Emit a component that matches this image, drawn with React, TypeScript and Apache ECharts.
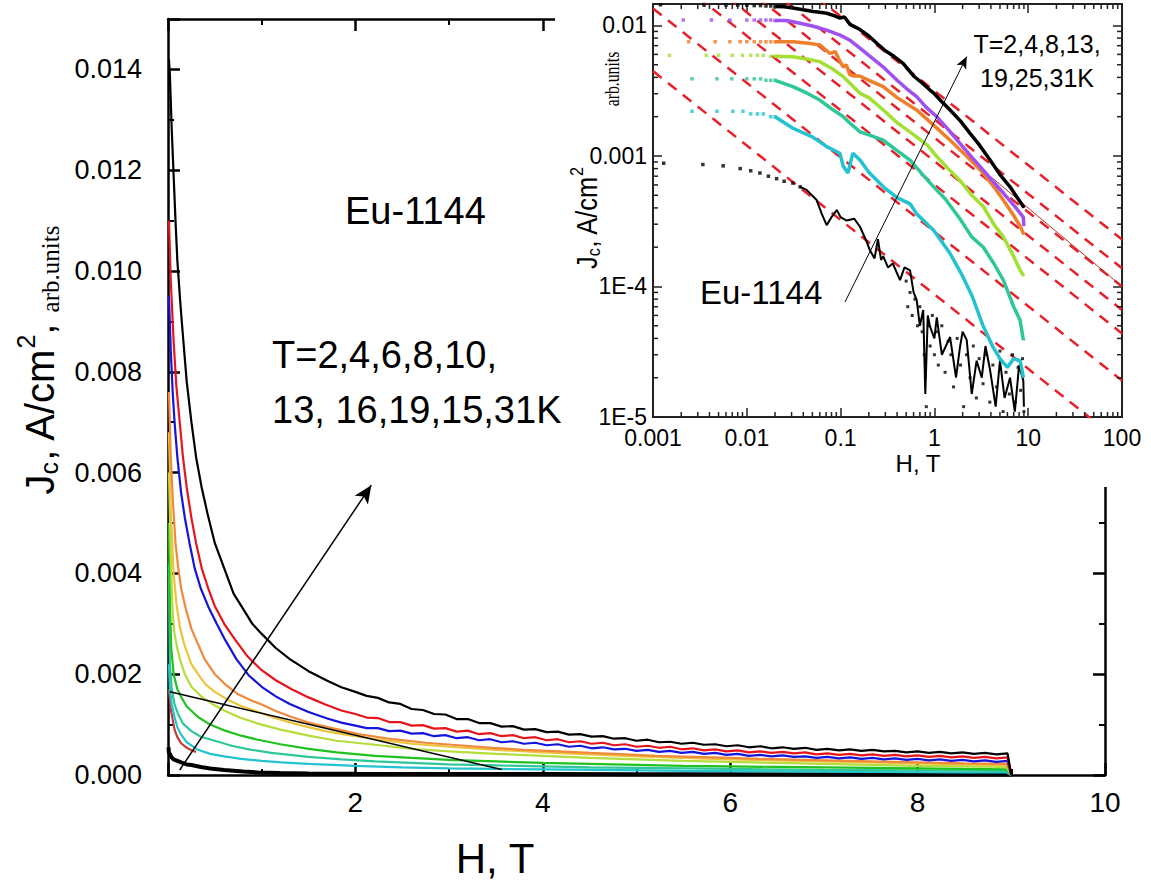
import React, { useEffect, useRef } from "react";
import * as echarts from "echarts";

// ---------------- Main chart (linear) data: [H (T), Jc] ----------------
const MAIN_X_TICKS = [0, 2, 4, 6, 8, 10];
const MAIN_T2: number[][] = [[0.01,0.0142],[0.02,0.0139],[0.04,0.0128],[0.06,0.0119],[0.08,0.0110],[0.10,0.0102],[0.13,0.0094],[0.16,0.0087],[0.2,0.0078],[0.25,0.0070],[0.3,0.0063],[0.36,0.0057],[0.42,0.0052],[0.5,0.0046],[0.6,0.0041],[0.7,0.0036],[0.8,0.0033],[0.9,0.0030],[1.0,0.0028],[1.15,0.00252],[1.3,0.0023],[1.5,0.00206],[1.7,0.00187],[1.85,0.00174],
  [2.0,0.00165],[2.12,0.00157],[2.24,0.00153],[2.36,0.00144],[2.48,0.00141],[2.6,0.00131],[2.72,0.00129],[2.84,0.00121],[2.96,0.0012],[3.08,0.00111],[3.2,0.00111],[3.32,0.00103],[3.44,0.00103],[3.56,0.00096],[3.68,0.00097],[3.8,0.0009],[3.92,0.00091],[4.04,0.00085],[4.16,0.00086],[4.28,0.0008],[4.4,0.00081],[4.52,0.00076],[4.64,0.00077],[4.76,0.00072],[4.88,0.00073],[5.0,0.00068],[5.12,0.0007],[5.24,0.00065],[5.36,0.00066],[5.48,0.00062],[5.6,0.00064],[5.72,0.0006],[5.84,0.00061],[5.96,0.00057],[6.08,0.00059],[6.2,0.00055],[6.32,0.00057],[6.44,0.00053],[6.56,0.00055],[6.68,0.00052],[6.8,0.00054],[6.92,0.0005],[7.04,0.00052],[7.16,0.00049],[7.28,0.00051],[7.4,0.00048],[7.52,0.0005],[7.64,0.00047],[7.76,0.00048],[7.88,0.00045],[8.0,0.00047],[8.12,0.00044],[8.24,0.00046],[8.36,0.00043],[8.48,0.00045],[8.6,0.00042],[8.72,0.00044],[8.84,0.00041],[8.96,0.00043],[9.0,0]];
const MAIN_T4: number[][] = [[0.01,0.0110],[0.03,0.0098],[0.06,0.0086],[0.09,0.0077],[0.125,0.0070],[0.16,0.0063],[0.2,0.0057],[0.25,0.0051],[0.3,0.0046],[0.36,0.0041],[0.43,0.0037],[0.5,0.00335],[0.6,0.0030],[0.71,0.0027],[0.85,0.00235],[1.0,0.00208],[1.15,0.00188],[1.32,0.0017],[1.5,0.00154],[1.68,0.0014],[1.85,0.00128],
  [2.0,0.00121],[2.12,0.00114],[2.24,0.00113],[2.36,0.00105],[2.48,0.00105],[2.6,0.00098],[2.72,0.00099],[2.84,0.00092],[2.96,0.00093],[3.08,0.00086],[3.2,0.00088],[3.32,0.00081],[3.44,0.00083],[3.56,0.00077],[3.68,0.00079],[3.8,0.00073],[3.92,0.00075],[4.04,0.00069],[4.16,0.00071],[4.28,0.00065],[4.4,0.00067],[4.52,0.00062],[4.64,0.00064],[4.76,0.00059],[4.88,0.00061],[5.0,0.00056],[5.12,0.00058],[5.24,0.00054],[5.36,0.00056],[5.48,0.00051],[5.6,0.00053],[5.72,0.00049],[5.84,0.00051],[5.96,0.00047],[6.08,0.00049],[6.2,0.00045],[6.32,0.00047],[6.44,0.00044],[6.56,0.00046],[6.68,0.00043],[6.8,0.00045],[6.92,0.00041],[7.04,0.00043],[7.16,0.0004],[7.28,0.00042],[7.4,0.00039],[7.52,0.00041],[7.64,0.00038],[7.76,0.0004],[7.88,0.00037],[8.0,0.00039],[8.12,0.00036],[8.24,0.00038],[8.36,0.00035],[8.48,0.00037],[8.6,0.00034],[8.72,0.00036],[8.84,0.00033],[8.96,0.00035],[9.0,0]];
const MAIN_T6: number[][] = [[0.01,0.0095],[0.03,0.0084],[0.05,0.0076],[0.07,0.0070],[0.1,0.0063],[0.14,0.0056],[0.18,0.0051],[0.23,0.0046],[0.285,0.0041],[0.35,0.0037],[0.43,0.00334],[0.52,0.0030],[0.61,0.00268],[0.73,0.0023],[0.86,0.00198],[1.0,0.00175],[1.15,0.00156],[1.3,0.00141],[1.5,0.00125],[1.7,0.00112],[1.85,0.00104],
  [2.0,0.00098],[2.12,0.00093],[2.24,0.00093],[2.36,0.00087],[2.48,0.00088],[2.6,0.00082],[2.72,0.00083],[2.84,0.00077],[2.96,0.00079],[3.08,0.00073],[3.2,0.00075],[3.32,0.00069],[3.44,0.00071],[3.56,0.00065],[3.68,0.00067],[3.8,0.00062],[3.92,0.00064],[4.04,0.00059],[4.16,0.00061],[4.28,0.00056],[4.4,0.00058],[4.52,0.00053],[4.64,0.00055],[4.76,0.00051],[4.88,0.00052],[5.0,0.00048],[5.12,0.0005],[5.24,0.00046],[5.36,0.00048],[5.48,0.00044],[5.6,0.00046],[5.72,0.00042],[5.84,0.00044],[5.96,0.0004],[6.08,0.00042],[6.2,0.00038],[6.32,0.0004],[6.44,0.00037],[6.56,0.00039],[6.68,0.00036],[6.8,0.00037],[6.92,0.00034],[7.04,0.00036],[7.16,0.00033],[7.28,0.00035],[7.4,0.00032],[7.52,0.00034],[7.64,0.00031],[7.76,0.00033],[7.88,0.0003],[8.0,0.00032],[8.12,0.00029],[8.24,0.00031],[8.36,0.00028],[8.48,0.0003],[8.6,0.00027],[8.72,0.00029],[8.84,0.00026],[8.96,0.00028],[9.0,0]];
const MAIN_T8: number[][] = [[0.01,0.0076],[0.03,0.0063],[0.05,0.0055],[0.08,0.0046],[0.11,0.0041],[0.14,0.0037],[0.19,0.0033],[0.25,0.0029],[0.32,0.0026],[0.39,0.0023],[0.5,0.002],[0.61,0.0018],[0.75,0.0016],[0.9,0.00147],[1.0,0.0014],[1.15,0.00127],[1.32,0.00115],[1.5,0.00104],[1.7,0.00095],[1.85,0.00089],[2.03,0.00081],[2.4,0.00071],[2.75,0.00064],[3.1,0.00059],[3.46,0.00054],[3.8,0.0005],[4.17,0.00047],[4.5,0.00044],[4.88,0.00041],[5.2,0.00038],[5.6,0.00036],[6.0,0.00034],[6.31,0.00032],[6.8,0.0003],[7.5,0.00027],[8.0,0.00025],[8.5,0.00023],[8.95,0.00022],[9.0,0]];
const MAIN_T10: number[][] = [[0.01,0.0068],[0.03,0.0052],[0.06,0.0040],[0.09,0.0034],[0.13,0.0029],[0.18,0.00255],[0.25,0.0022],[0.32,0.002],[0.4,0.0018],[0.5,0.00165],[0.63,0.0015],[0.78,0.00137],[0.95,0.00126],[1.14,0.00113],[1.35,0.00102],[1.5,0.00095],[1.68,0.00087],[1.9,0.0008],[2.21,0.00071],[2.6,0.00062],[3.0,0.00056],[3.5,0.0005],[4.0,0.00045],[4.5,0.00041],[5.0,0.00037],[5.5,0.00034],[6.0,0.00031],[6.5,0.00029],[7.0,0.00027],[7.5,0.00025],[8.0,0.00023],[8.5,0.00021],[8.95,0.0002],[9.0,0]];
const MAIN_T13: number[][] = [[0.01,0.0060],[0.03,0.0043],[0.05,0.0032],[0.07,0.0028],[0.1,0.0025],[0.14,0.00222],[0.18,0.002],[0.25,0.00175],[0.36,0.00155],[0.48,0.0014],[0.61,0.00127],[0.78,0.00113],[0.96,0.00102],[1.2,0.0009],[1.5,0.00078],[1.8,0.00068],[2.21,0.0006],[2.6,0.00052],[3.0,0.00047],[3.5,0.00042],[4.0,0.00038],[4.5,0.00034],[5.0,0.00031],[5.5,0.00028],[6.0,0.00026],[6.5,0.00024],[7.0,0.00022],[7.5,0.0002],[8.0,0.00018],[8.5,0.00017],[8.95,0.00016],[9.0,0]];
const MAIN_T16: number[][] = [[0.01,0.0050],[0.02,0.0034],[0.035,0.0025],[0.06,0.002],[0.1,0.0017],[0.14,0.00155],[0.2,0.00136],[0.32,0.00115],[0.45,0.001],[0.61,0.00088],[0.78,0.00078],[0.96,0.0007],[1.2,0.00061],[1.5,0.00052],[1.8,0.00045],[2.21,0.00038],[2.6,0.00034],[3.0,0.0003],[3.5,0.00027],[4.0,0.00024],[4.5,0.00022],[5.0,0.0002],[5.5,0.00018],[6.0,0.00017],[6.5,0.00016],[7.0,0.00015],[7.5,0.00014],[8.0,0.00013],[8.5,0.00012],[8.95,0.00011],[9.0,0]];
const MAIN_T19: number[][] = [[0.01,0.0042],[0.015,0.0030],[0.02,0.0022],[0.04,0.0017],[0.07,0.0014],[0.11,0.0012],[0.16,0.00102],[0.25,0.00087],[0.35,0.00076],[0.5,0.00068],[0.68,0.00058],[0.89,0.0005],[1.1,0.00044],[1.5,0.00036],[1.85,0.00031],[2.21,0.00027],[2.6,0.00024],[3.0,0.00021],[3.5,0.00019],[4.0,0.00017],[4.5,0.00015],[5.0,0.00014],[6.0,0.00012],[7.0,0.0001],[8.0,0.00009],[8.95,0.00008],[9.0,0]];
const MAIN_T25: number[][] = [[0.01,0.0022],[0.02,0.0017],[0.04,0.0014],[0.07,0.00115],[0.1,0.00095],[0.14,0.0008],[0.2,0.00065],[0.32,0.0005],[0.45,0.00042],[0.6,0.00037],[0.78,0.00032],[1.0,0.00028],[1.21,0.00025],[1.5,0.00022],[2.0,0.00018],[2.5,0.00015],[3.0,0.00013],[3.5,0.00012],[4.0,0.00011],[4.6,0.0001],[5.5,0.00008],[6.5,0.00007],[7.5,0.00006],[8.5,0.00005],[8.95,0.00005],[9.0,0]];
const MAIN_T31: number[][] = [[0.01,0.0017],[0.02,0.0015],[0.03,0.0013],[0.05,0.0011],[0.07,0.0009],[0.1,0.00075],[0.14,0.00063],[0.18,0.00057],[0.22,0.00052],[0.26,0.00048],[0.3,0.00046]];
const MAIN_BASE: number[][] = [[0.005,0.00055],[0.01,0.00044],[0.02,0.00042],[0.035,0.00036],[0.06,0.00031],[0.1,0.00028],[0.14,0.00025],[0.2,0.00021],[0.25,0.0002],[0.35,0.00016],[0.45,0.00013],[0.6,0.0001],[0.8,0.00007],[0.96,0.00005],[1.2,0.00004],[1.5,0.00003],[2.0,0.000025],[3,0.00002],[4,0.000018],[5,0.000015],[6,0.000015],[7,0.000012],[8,0.000012],[9.0,0.00001]];
const MAIN_FIT_LINE: number[][] = [[0.02,0.00165],[3.56,0.00011]];
const MAIN_ARROW: number[][] = [[0.125,0.0001],[2.17,0.00575]];

// ---------------- Inset (log-log) data ----------------
const IN_T2_DOTS: number[][] = [[0.0012,0.0144],[0.0035,0.0143],[0.006,0.0143],[0.008,0.0143],[0.01,0.0143],[0.012,0.0142],[0.014,0.0142],[0.016,0.0141],[0.018,0.0141],[0.02,0.014]];
const IN_T2: number[][] = [[0.02,0.014],[0.025,0.0139],[0.031,0.0136],[0.04,0.0132],[0.051,0.0128],[0.06,0.0126],[0.0711,0.0124],[0.085,0.0119],[0.0986,0.0114],[0.11,0.0116],[0.126,0.0102],[0.161,0.0093],[0.2,0.0083],[0.243,0.0073],[0.3,0.0064],[0.37,0.0058],[0.466,0.0051],[0.6,0.0041],[0.75,0.0036],[0.897,0.0032],[1.0,0.0030],[1.2,0.0026],[1.47,0.00225],[1.9,0.00185],[2.4,0.00149],[3.0,0.00122],[3.92,0.00093],[5.0,0.00072],[6.4,0.00058],[7.5,0.00049],[8.87,0.00041],[9.0,0.0004]];
const IN_T4_DOTS: number[][] = [[0.0021,0.011],[0.0042,0.011],[0.0066,0.011],[0.01,0.011],[0.012,0.011],[0.014,0.011],[0.016,0.011],[0.018,0.011],[0.02,0.0109]];
const IN_T4: number[][] = [[0.02,0.0109],[0.0266,0.0109],[0.0369,0.0104],[0.05,0.0099],[0.0711,0.0092],[0.1,0.0084],[0.126,0.0077],[0.161,0.0067],[0.2,0.0059],[0.285,0.0048],[0.4,0.0038],[0.5,0.0033],[0.647,0.00285],[0.8,0.0024],[1.06,0.002],[1.4,0.0016],[1.87,0.00125],[2.5,0.00098],[3.32,0.00078],[4.2,0.00064],[5.43,0.00052],[7.0,0.00042],[8.87,0.00034],[9.0,0.00029]];
const IN_T8_DOTS: number[][] = [[0.0024,0.0075],[0.0046,0.0075],[0.0066,0.0075],[0.0085,0.0075],[0.01,0.0075],[0.012,0.0075],[0.014,0.0075],[0.016,0.0075],[0.018,0.0075],[0.02,0.0075]];
const IN_T8: number[][] = [[0.02,0.0075],[0.0313,0.0075],[0.045,0.0073],[0.06,0.0071],[0.077,0.0061],[0.0875,0.0063],[0.1,0.0052],[0.107,0.0048],[0.115,0.005],[0.125,0.0042],[0.14,0.0041],[0.16,0.0041],[0.2,0.0038],[0.285,0.0034],[0.4,0.0028],[0.647,0.00225],[1.0,0.0017],[1.47,0.00132],[2.2,0.001],[3.32,0.00074],[4.3,0.00058],[5.43,0.00046],[7.0,0.00035],[8.2,0.00029],[9.0,0.00025]];
const IN_T13_DOTS: number[][] = [[0.0015,0.0059],[0.0037,0.0059],[0.005,0.0059],[0.007,0.0059],[0.009,0.0059],[0.011,0.0059],[0.013,0.0059],[0.015,0.0059],[0.018,0.0058],[0.02,0.0058]];
const IN_T13: number[][] = [[0.02,0.0058],[0.031,0.00576],[0.045,0.0055],[0.06,0.00528],[0.08,0.0047],[0.107,0.00405],[0.161,0.00302],[0.2,0.0028],[0.285,0.00225],[0.4,0.0018],[0.647,0.0014],[0.85,0.0012],[1.06,0.00099],[1.4,0.0008],[1.87,0.00065],[2.5,0.0005],[3.32,0.00041],[4.3,0.0003],[5.43,0.00024],[7.0,0.00017],[8.2,0.000133],[9.0,0.00012]];
const IN_T19_DOTS: number[][] = [[0.0026,0.0039],[0.0048,0.0039],[0.0069,0.0039],[0.01,0.0039],[0.012,0.0039],[0.014,0.0039],[0.016,0.0038],[0.018,0.0038],[0.02,0.0038]];
const IN_T19: number[][] = [[0.02,0.0038],[0.031,0.0034],[0.045,0.003],[0.06,0.00268],[0.08,0.0023],[0.107,0.002],[0.126,0.00178],[0.161,0.00153],[0.2,0.00145],[0.285,0.00132],[0.4,0.0011],[0.55,0.00093],[0.75,0.00072],[0.98,0.00058],[1.3,0.00047],[1.87,0.00033],[2.5,0.00024],[3.32,0.0002],[4.3,0.00015],[5.43,0.000112],[7.0,0.00007],[8.2,0.000055],[8.87,0.000039],[9.0,0.00004]];
const IN_T25_DOTS: number[][] = [[0.0026,0.0022],[0.0048,0.0022],[0.0071,0.0022],[0.0091,0.0022],[0.011,0.0021],[0.013,0.0021],[0.015,0.0021],[0.018,0.002],[0.02,0.002]];
const IN_T25: number[][] = [[0.02,0.002],[0.031,0.00163],[0.05,0.0014],[0.071,0.00118],[0.098,0.00105],[0.107,0.00083],[0.12,0.00074],[0.135,0.00105],[0.161,0.00093],[0.2,0.00075],[0.285,0.00058],[0.4,0.00048],[0.55,0.00043],[0.647,0.00036],[0.98,0.00027],[1.47,0.000179],[2.0,0.00012],[2.55,0.000083],[3.3,0.00005],[4.25,0.000034],[5.0,0.000028],[6.0,0.000024],[7.0,0.000028],[8.2,0.000027],[8.9,0.00002],[9.0,0.00002]];
const IN_T31_DOTS: number[][] = [[0.0013,0.00088],[0.0034,0.00086],[0.0056,0.00084],[0.0085,0.0008],[0.011,0.00077],[0.0138,0.00074],[0.017,0.0007],[0.0208,0.00067],[0.025,0.00064],[0.031,0.00062],[0.037,0.00058]];
const IN_T31: number[][] = [[0.037,0.00058],[0.0434,0.00055],[0.0555,0.00046],[0.063,0.00036],[0.071,0.000295],[0.08,0.00034],[0.091,0.000385],[0.1,0.00034],[0.116,0.00032],[0.14,0.00033],[0.161,0.000287],[0.19,0.00022],[0.205,0.00019],[0.23,0.000164],[0.25,0.00023],[0.27,0.00016],[0.285,0.00017],[0.32,0.00014],[0.36,0.00015],[0.43,0.000112],[0.48,0.00014],[0.55,0.000133],[0.6,0.00009],[0.647,0.000079],[0.7,0.00005],[0.76,0.000066],[0.8,0.000015],[0.85,0.00006],[0.9,0.000049],[1.0,0.00004],[1.06,0.000058],[1.2,0.00003],[1.47,0.000041],[1.7,0.00002],[1.87,0.000034],[2.0,0.000045],[2.21,0.000039],[2.5,0.000015],[2.82,0.000027],[3.2,0.00002],[3.5,0.000035],[3.92,0.000023],[4.5,0.000012],[5.0,0.000027],[5.6,0.000014],[6.4,0.00002],[7.2,0.000011],[8.0,0.000025],[8.87,0.000019],[9.0,0.000012]];
const IN_T31_NOISE: number[][] = [[0.5,0.00011],[0.52,0.00007],[0.55,0.00009],[0.58,0.00006],[0.62,0.00008],[0.66,0.00005],[0.7,0.00007],[0.74,0.000045],[0.78,0.00003],[0.82,0.000012],[0.86,0.00005],[0.9,0.000035],[0.95,0.00006],[1.0,0.00003],[1.05,0.000045],[1.1,0.000025],[1.2,0.00005],[1.3,0.000022],[1.4,0.000038],[1.5,0.00003],[1.6,0.000017],[1.75,0.00004],[1.9,0.000025],[2.05,0.000012],[2.2,0.00003],[2.4,0.00002],[2.6,0.000035],[2.8,0.000014],[3.0,0.000028],[3.3,0.000018],[3.6,0.00003],[3.9,0.000013],[4.2,0.000025],[4.6,0.000017],[5.0,0.000032],[5.4,0.000011],[5.8,0.000022],[6.3,0.000015],[6.8,0.00003],[7.3,0.000013],[7.8,0.000024],[8.3,0.000016],[8.7,0.000028],[9.0,0.000011]];
// red dashed power-law guide lines: [H1, J1, H2, J2]
const DASH_LINES: number[][] = [
  [0.001, 0.162, 100, 0.000229],
  [0.001, 0.0977, 100, 0.000138],
  [0.001, 0.0708, 100, 0.0001],
  [0.001, 0.0468, 100, 0.000066],
  [0.001, 0.0309, 100, 0.0000437],
  [0.001, 0.0135, 100, 0.000019],
  [0.001, 0.00447, 100, 0.0000063],
];
const THIN_FIT: number[][] = [[2.0, 0.00105], [100, 0.0001]];
const INSET_ARROW: number[][] = [[0.1114, 0.000076], [2.21, 0.00577]];

const SANS = "Liberation Sans, Arial, sans-serif";
const SERIF = "Liberation Serif, Times New Roman, serif";

export default function App() {
  const ref = useRef<HTMLDivElement>(null);
  useEffect(() => {
    const chart = echarts.init(ref.current!, null, { renderer: "svg" });

    const mainLine = (name: string, data: number[][], color: string, width = 2.2) => ({
      name, type: "line", xAxisIndex: 0, yAxisIndex: 0, data, showSymbol: false,
      lineStyle: { color, width }, itemStyle: { color }, z: 3, silent: true,
    });
    const insetLine = (name: string, data: number[][], color: string, width = 3.5) => ({
      name, type: "line", xAxisIndex: 2, yAxisIndex: 2, data, showSymbol: false,
      lineStyle: { color, width }, itemStyle: { color }, z: 70, silent: true,
    });
    const insetDots = (name: string, data: number[][], color: string, size = 3.5) => ({
      name, type: "scatter", xAxisIndex: 2, yAxisIndex: 2, data, symbol: "rect", symbolSize: size,
      itemStyle: { color }, z: 70, silent: true,
    });

    const minorX: number[][] = [];
    for (let d = -3; d < 2; d++) for (let k = 2; k <= 9; k++) minorX.push([k * Math.pow(10, d), 0.001]);
    const minorY: number[][] = [];
    for (let d = -5; d < -2; d++) for (let k = 2; k <= 9; k++) minorY.push([1, k * Math.pow(10, d)]);

    const logFmt = (v: number) => {
      const e = Math.round(Math.log10(v));
      if (Math.abs(v - Math.pow(10, e)) / Math.pow(10, e) > 0.01) return "";
      if (e < -3) return "1E" + e;
      return e >= 0 ? String(Math.pow(10, e)) : Math.pow(10, e).toFixed(-e);
    };

    const mainAxisLine = { onZero: false, lineStyle: { color: "#000", width: 2.5 } };
    const mainTick = { inside: true, length: 12, lineStyle: { width: 2.5, color: "#000" } };
    const mainMinor = { show: true, splitNumber: 2, length: 6, lineStyle: { width: 2, color: "#000" } };
    const inAxisLine = { show: true, onZero: false, lineStyle: { color: "#222", width: 2 } };
    const inTick = { inside: true, length: 9, lineStyle: { width: 1.5, color: "#222" } };

    const option: any = {
      animation: false,
      backgroundColor: "#fff",
      grid: [
        { left: 168, top: 19, width: 937, height: 756 },
        { left: 653, top: 4, width: 469, height: 413 },
      ],
      xAxis: [
        {
          gridIndex: 0, type: "value", min: MAIN_X_TICKS[0], max: MAIN_X_TICKS[MAIN_X_TICKS.length - 1], interval: 2,
          position: "bottom", axisLine: mainAxisLine, axisTick: mainTick, minorTick: mainMinor,
          splitLine: { show: false },
          axisLabel: { fontSize: 28, fontFamily: SANS, color: "#000", margin: 13, formatter: (v: number) => (v === 0 ? "" : String(v)) },
        },
        {
          gridIndex: 0, type: "value", min: 0, max: 10, interval: 2, position: "top",
          axisLine: mainAxisLine, axisTick: mainTick, minorTick: mainMinor,
          splitLine: { show: false }, axisLabel: { show: false },
        },
        {
          gridIndex: 1, type: "log", logBase: 10, min: 0.001, max: 100, position: "bottom", z: 60,
          axisLine: inAxisLine, axisTick: inTick, splitLine: { show: false },
          axisLabel: { fontSize: 23, fontFamily: SANS, color: "#000", margin: 9, formatter: logFmt },
        },
        {
          gridIndex: 1, type: "log", logBase: 10, min: 0.001, max: 100, position: "top", z: 60,
          axisLine: inAxisLine, axisTick: inTick, splitLine: { show: false }, axisLabel: { show: false },
        },
      ],
      yAxis: [
        {
          gridIndex: 0, type: "value", min: 0, max: 0.015, interval: 0.002, position: "left",
          axisLine: { show: true, ...mainAxisLine }, axisTick: mainTick, minorTick: mainMinor,
          splitLine: { show: false },
          axisLabel: { fontSize: 27, fontFamily: SANS, color: "#000", margin: 26, formatter: (v: number) => (v > 0.0145 ? "" : v.toFixed(3)) },
        },
        {
          gridIndex: 0, type: "value", min: 0, max: 0.015, interval: 0.002, position: "right",
          axisLine: { show: true, ...mainAxisLine }, axisTick: mainTick, minorTick: mainMinor,
          splitLine: { show: false }, axisLabel: { show: false },
        },
        {
          gridIndex: 1, type: "log", logBase: 10, min: 0.00001, max: 0.0146, position: "left", z: 60,
          axisLine: inAxisLine, axisTick: inTick, splitLine: { show: false },
          axisLabel: { fontSize: 23, fontFamily: SANS, color: "#000", margin: 6, formatter: logFmt },
        },
        {
          gridIndex: 1, type: "log", logBase: 10, min: 0.00001, max: 0.0146, position: "right", z: 60,
          axisLine: inAxisLine, axisTick: inTick, splitLine: { show: false }, axisLabel: { show: false },
        },
      ],
      graphic: [
        { type: "rect", shape: { x: 555, y: 0, width: 600, height: 487 }, style: { fill: "#fff" }, z: 50, silent: true },
        {
          type: "text", x: 40, y: 360, rotation: Math.PI / 2, z: 100,
          style: {
            text: "{a|J}{s|c}{a|, A/cm}{p|2}{a|, }{u|arb.units}", align: "center", verticalAlign: "middle",
            rich: {
              a: { fontSize: 40, fontFamily: SANS, fill: "#000" },
              s: { fontSize: 25, fontFamily: SANS, fill: "#000", padding: [18, 0, 0, 0] },
              p: { fontSize: 25, fontFamily: SANS, fill: "#000", padding: [0, 0, 28, 0] },
              u: { fontSize: 25, fontFamily: SERIF, fill: "#000", padding: [20, 0, 0, 0] },
            },
          },
        },
        { type: "text", x: 495, y: 858, z: 100, style: { text: "H, T", fontSize: 42, fontFamily: SANS, fill: "#000", align: "center", verticalAlign: "middle" } },
        { type: "text", x: 345, y: 211, z: 100, style: { text: "Eu-1144", fontSize: 38, fontFamily: SANS, fill: "#000", align: "left", verticalAlign: "middle" } },
        { type: "text", x: 272, y: 355, z: 100, style: { text: "T=2,4,6,8,10,", fontSize: 38, fontFamily: SANS, fill: "#000", align: "left", verticalAlign: "middle" } },
        { type: "text", x: 272, y: 410, z: 100, style: { text: "13, 16,19,15,31K", fontSize: 38, fontFamily: SANS, fill: "#000", align: "left", verticalAlign: "middle" } },
        {
          type: "text", x: 587, y: 218, rotation: Math.PI / 2, scaleX: 0.85, z: 100,
          style: {
            text: "{a|J}{s|c}{a|, A/cm}{p|2}", align: "center", verticalAlign: "middle",
            rich: {
              a: { fontSize: 30, fontFamily: SANS, fill: "#000" },
              s: { fontSize: 19, fontFamily: SANS, fill: "#000", padding: [14, 0, 0, 0] },
              p: { fontSize: 19, fontFamily: SANS, fill: "#000", padding: [0, 0, 20, 0] },
            },
          },
        },
        { type: "text", x: 612, y: 79, rotation: Math.PI / 2, scaleX: 0.75, z: 100, style: { text: "arb.units", fontSize: 21, fontFamily: SERIF, fill: "#000", align: "center", verticalAlign: "middle" } },
        { type: "text", x: 918, y: 463, z: 100, style: { text: "H, T", fontSize: 24, fontFamily: SANS, fill: "#000", align: "center", verticalAlign: "middle" } },
        { type: "text", x: 700, y: 292, z: 100, style: { text: "Eu-1144", fontSize: 33, fontFamily: SANS, fill: "#000", align: "left", verticalAlign: "middle" } },
        { type: "text", x: 1037, y: 44, z: 100, style: { text: "T=2,4,8,13,", fontSize: 25, fontFamily: SANS, fill: "#000", align: "center", verticalAlign: "middle" } },
        { type: "text", x: 1037, y: 78, z: 100, style: { text: "19,25,31K", fontSize: 25, fontFamily: SANS, fill: "#000", align: "center", verticalAlign: "middle" } },
      ],
      series: [
        mainLine("T=31K base", MAIN_BASE, "#000", 4),
        mainLine("T=31K", MAIN_T31, "#c83c32"),
        mainLine("T=25K", MAIN_T25, "#22c3cf"),
        mainLine("T=19K", MAIN_T19, "#2ec79a"),
        mainLine("T=16K", MAIN_T16, "#1fc21f"),
        mainLine("T=13K", MAIN_T13, "#b4dc3c"),
        mainLine("T=10K", MAIN_T10, "#ecc43c"),
        mainLine("T=8K", MAIN_T8, "#f0893a"),
        mainLine("T=6K", MAIN_T6, "#1414dc"),
        mainLine("T=4K", MAIN_T4, "#e8141c"),
        mainLine("T=2K", MAIN_T2, "#000"),
        {
          name: "fit", type: "line", xAxisIndex: 0, yAxisIndex: 0, data: MAIN_FIT_LINE, showSymbol: false,
          lineStyle: { color: "#000", width: 1.5 }, z: 4, silent: true,
          markLine: {
            silent: true, symbol: ["none", "arrow"], symbolSize: [12, 18], label: { show: false },
            lineStyle: { color: "#000", width: 1.5, type: "solid" },
            data: [[{ coord: MAIN_ARROW[0] }, { coord: MAIN_ARROW[1] }]],
          },
        },
        ...DASH_LINES.map((d, i) => ({
          name: "guide" + i, type: "line", xAxisIndex: 2, yAxisIndex: 2, data: [[d[0], d[1]], [d[2], d[3]]],
          showSymbol: false, lineStyle: { color: "#e8202a", width: 2.5, type: [11, 8] }, z: 69, silent: true,
        })),
        {
          name: "thin fit", type: "line", xAxisIndex: 2, yAxisIndex: 2, data: THIN_FIT, showSymbol: false,
          lineStyle: { color: "#c0302a", width: 1 }, z: 69, silent: true,
          markLine: {
            silent: true, z: 90, symbol: ["none", "arrow"], symbolSize: [8, 12], label: { show: false },
            lineStyle: { color: "#000", width: 1, type: "solid" },
            data: [[{ coord: INSET_ARROW[0] }, { coord: INSET_ARROW[1] }]],
          },
        },
        insetDots("in31d", IN_T31_DOTS, "#000"), insetLine("in31", IN_T31, "#000", 2),
        insetDots("in31n", IN_T31_NOISE, "#000", 3),
        insetDots("in25d", IN_T25_DOTS, "#22c3cf"), insetLine("in25", IN_T25, "#22c3cf"),
        insetDots("in19d", IN_T19_DOTS, "#2ec79a"), insetLine("in19", IN_T19, "#2ec79a"),
        insetDots("in13d", IN_T13_DOTS, "#a2e034"), insetLine("in13", IN_T13, "#a2e034"),
        insetDots("in8d", IN_T8_DOTS, "#f07f2a"), insetLine("in8", IN_T8, "#f07f2a"),
        insetDots("in4d", IN_T4_DOTS, "#a050f0"), insetLine("in4", IN_T4, "#a050f0"),
        insetDots("in2d", IN_T2_DOTS, "#000"), insetLine("in2", IN_T2, "#000"),
        {
          name: "minorX", type: "custom", xAxisIndex: 2, yAxisIndex: 2, data: minorX, z: 75, silent: true, clip: false,
          renderItem: (params: any, api: any) => {
            const cs = params.coordSys;
            const px = api.coord([api.value(0), 0.001])[0];
            const st = { stroke: "#222", lineWidth: 1.5 };
            return { type: "group", children: [
              { type: "line", shape: { x1: px, y1: cs.y + cs.height, x2: px, y2: cs.y + cs.height - 5 }, style: st },
              { type: "line", shape: { x1: px, y1: cs.y, x2: px, y2: cs.y + 5 }, style: st },
            ] };
          },
        },
        {
          name: "minorY", type: "custom", xAxisIndex: 2, yAxisIndex: 2, data: minorY, z: 75, silent: true, clip: false,
          renderItem: (params: any, api: any) => {
            const cs = params.coordSys;
            const py = api.coord([1, api.value(1)])[1];
            const st = { stroke: "#222", lineWidth: 1.5 };
            return { type: "group", children: [
              { type: "line", shape: { x1: cs.x, y1: py, x2: cs.x + 5, y2: py }, style: st },
              { type: "line", shape: { x1: cs.x + cs.width, y1: py, x2: cs.x + cs.width - 5, y2: py }, style: st },
            ] };
          },
        },
      ],
    };
    chart.setOption(option);
    return () => chart.dispose();
  }, []);
  return <div ref={ref} style={{ position: "absolute", left: 0, top: 0, width: 1151, height: 890 }} />;
}
